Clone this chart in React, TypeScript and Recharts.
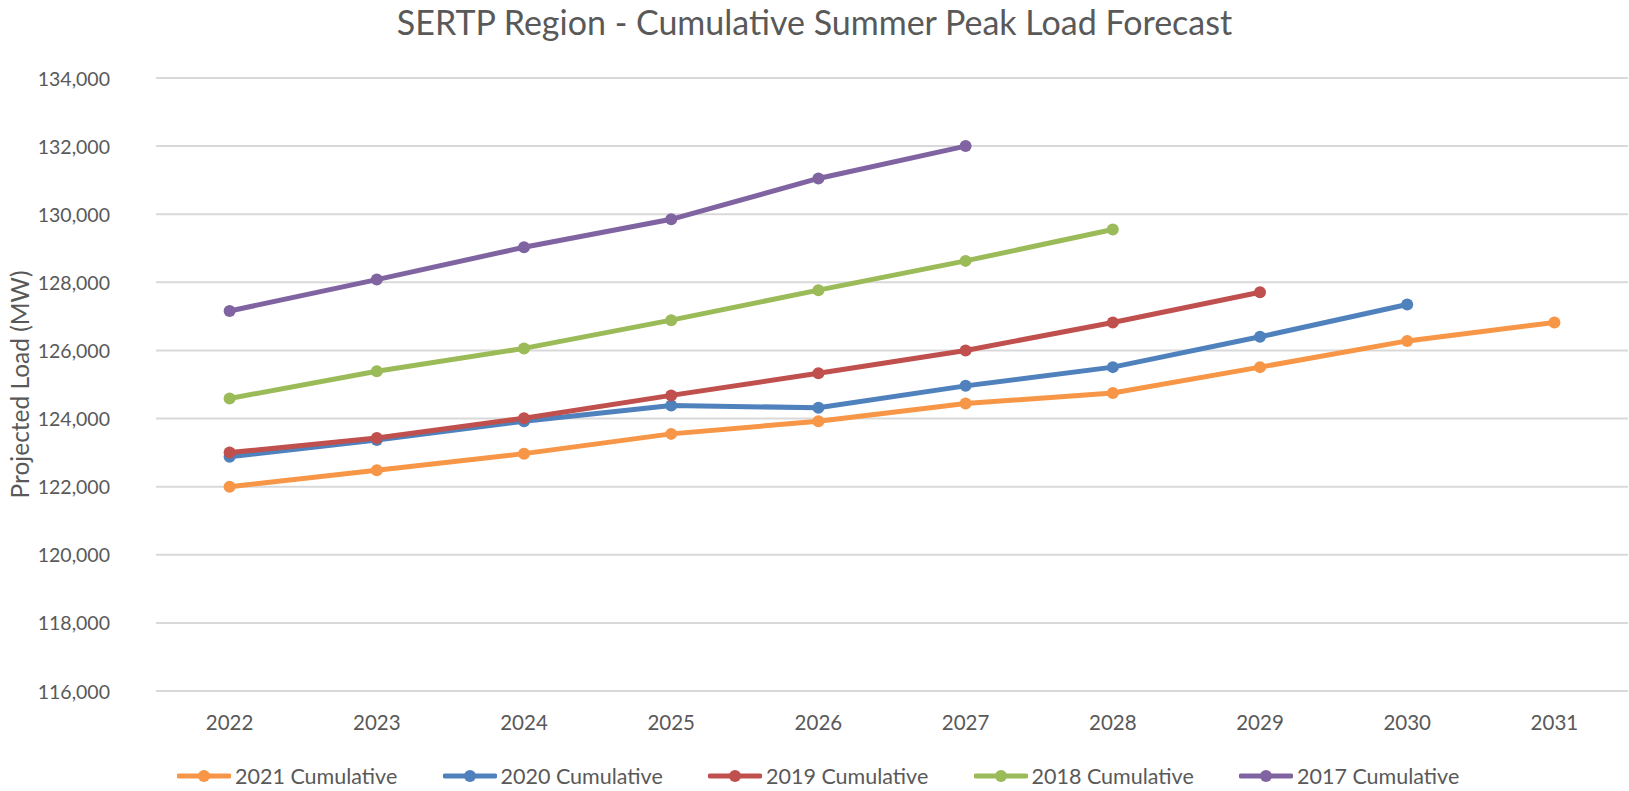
import { LineChart, Line, XAxis, YAxis, CartesianGrid, Legend } from 'recharts'

const years = ['2022', '2023', '2024', '2025', '2026', '2027', '2028', '2029', '2030', '2031']
const load2021 = [122000, 122480, 122970, 123550, 123920, 124440, 124750, 125510, 126280, 126820]
const load2020 = [122880, 123370, 123920, 124380, 124320, 124960, 125510, 126400, 127350]
const load2019 = [123000, 123430, 124010, 124680, 125330, 126000, 126820, 127710]
const load2018 = [124590, 125390, 126060, 126890, 127770, 128630, 129550]
const load2017 = [127160, 128080, 129030, 129850, 131050, 132000]
const yTicks = [116000, 118000, 120000, 122000, 124000, 126000, 128000, 130000, 132000, 134000]

const series = [
  { key: 's2021', name: '2021 Cumulative', color: '#F79646', values: load2021 },
  { key: 's2020', name: '2020 Cumulative', color: '#4F81BD', values: load2020 },
  { key: 's2019', name: '2019 Cumulative', color: '#C0504D', values: load2019 },
  { key: 's2018', name: '2018 Cumulative', color: '#9BBB59', values: load2018 },
  { key: 's2017', name: '2017 Cumulative', color: '#8064A2', values: load2017 },
]

const data = years.map((year, i) => {
  const row: Record<string, string | number | undefined> = { year }
  series.forEach((s) => {
    row[s.key] = s.values[i]
  })
  return row
})

const W = 1629
const H = 791
const PLOT_TOP = 78
const PLOT_BOTTOM = 691
const PLOT_LEFT = 156
const HALF_BAND = (W - 1 - PLOT_LEFT) / years.length / 2
const FONT = 'Lato, sans-serif'
const GREY = '#595959'

const YTick = ({ y, payload }: any) => (
  <text x={110} y={y} dominantBaseline="central" textAnchor="end" fill={GREY} fontSize={19.5} fontFamily={FONT}>
    {Number(payload.value).toLocaleString('en-US')}
  </text>
)

const XTick = ({ x, payload }: any) => (
  <text x={x} y={PLOT_BOTTOM + 31} dominantBaseline="central" textAnchor="middle" fill={GREY} fontSize={20.5} fontFamily={FONT}>
    {payload.value}
  </text>
)

const LegendContent = () => (
  <div style={{ display: 'flex', fontFamily: FONT, fontSize: 21.5, color: GREY }}>
    {series.map((s) => (
      <div key={s.key} style={{ width: 265.5, display: 'flex', alignItems: 'center' }}>
        <svg width={54} height={14} style={{ marginRight: 4 }}>
          <line x1={2} y1={7} x2={52} y2={7} stroke={s.color} strokeWidth={5} strokeLinecap="round" />
          <circle cx={27} cy={7} r={6} fill={s.color} />
        </svg>
        <span>{s.name}</span>
      </div>
    ))}
  </div>
)

export default function App() {
  return (
    <div style={{ position: 'absolute', left: 0, top: 0, width: W, height: H, background: '#fff' }}>
      <div
        style={{
          position: 'absolute',
          left: 0,
          width: W,
          top: 0,
          textAlign: 'center',
          fontFamily: FONT,
          fontSize: 34,
          color: GREY,
          lineHeight: '44px',
        }}
      >
        SERTP Region - Cumulative Summer Peak Load Forecast
      </div>
      <LineChart width={W} height={H} data={data} margin={{ top: PLOT_TOP, right: 1, bottom: 0, left: 0 }}>
        <CartesianGrid vertical={false} stroke="#D9D9D9" strokeWidth={2} />
        <XAxis
          dataKey="year"
          axisLine={false}
          tickLine={false}
          height={H - PLOT_BOTTOM}
          tick={<XTick />}
          interval={0}
          padding={{ left: HALF_BAND, right: HALF_BAND }}
        />
        <YAxis
          domain={[116000, 134000]}
          ticks={yTicks}
          axisLine={false}
          tickLine={false}
          width={PLOT_LEFT}
          tick={<YTick />}
          label={{
            content: () => (
              <text
                x={19}
                y={(PLOT_TOP + PLOT_BOTTOM) / 2}
                transform={`rotate(-90 19 ${(PLOT_TOP + PLOT_BOTTOM) / 2})`}
                textAnchor="middle"
                dominantBaseline="central"
                fill={GREY}
                fontSize={24.5}
                fontFamily={FONT}
              >
                Projected Load (MW)
              </text>
            ),
          }}
        />
        <Legend
          layout="horizontal"
          verticalAlign="middle"
          align="center"
          content={<LegendContent />}
          wrapperStyle={{ top: 763, left: 177, width: 1400 }}
        />
        {series.map((s) => (
          <Line
            key={s.key}
            dataKey={s.key}
            name={s.name}
            stroke={s.color}
            strokeWidth={5}
            dot={{ r: 6, fill: s.color, stroke: 'none' }}
            activeDot={false}
            isAnimationActive={false}
          />
        ))}
      </LineChart>
    </div>
  )
}
